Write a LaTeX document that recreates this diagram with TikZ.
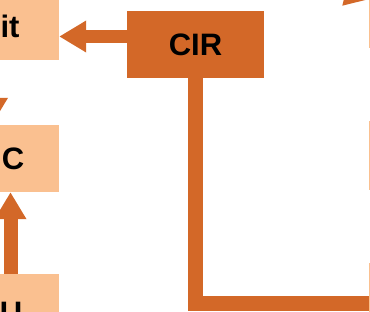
\documentclass[tikz,border=0pt]{standalone}
\usepackage{fontspec}
\setmainfont{Liberation Sans}
\usetikzlibrary{arrows.meta,positioning}
\definecolor{cLight}{RGB}{250,192,144}
\definecolor{cDark}{RGB}{211,104,40}

\begin{document}
\begin{tikzpicture}[x=1pt, y=-1pt, font=\fontsize{31}{36}\selectfont\bfseries,
  lightbox/.style={fill=cLight, inner sep=0pt},
  darkbox/.style={fill=cDark, inner sep=0pt},
  fat/.style={draw=cDark, line width=#1, -{Triangle[width=30pt, length=27pt]}},
  pipe/.style={draw=cDark, line width=15pt}]
\useasboundingbox (0,0) rectangle (370,312);
% boxes on the left, cut by the page
\node[lightbox, minimum width=98pt, minimum height=68pt] (unit) at (10,26) {it};
\node[lightbox, minimum width=92pt, minimum height=67pt] (cbox) at (13,158.5) {C};
\node[lightbox, minimum width=96pt, minimum height=78pt] (ubox) at (11,313) {U};
\node[darkbox, minimum width=137pt, minimum height=67pt] (cir) at (195.5,44.5) {CIR};
% boxes just past the right edge
\node[lightbox, minimum width=60pt, minimum height=68pt, anchor=north west] (rtop) at (369,-20) {};
\node[lightbox, minimum width=60pt, minimum height=69pt, anchor=north west] (rmid) at (369,121) {};
\node[lightbox, minimum width=60pt, minimum height=70pt, anchor=north west] (rbot) at (369,263) {};
% columns and rows of the connectors
\coordinate (leftcol) at (-8,0);
\coordinate (upcol) at (10.5,0);
\coordinate (midrow) at (0,36.5);
\coordinate (botrow) at (0,303.5);
\coordinate (fromTR) at (392,-44);
\coordinate (tipTR) at (342,6);
\draw[fat=14pt] (unit.south -| leftcol) -- (cbox.north -| leftcol);
\draw[fat=14pt] (ubox.north -| upcol) -- (cbox.south -| upcol);
\draw[fat=13pt] (cir.west |- midrow) -- (unit.east |- midrow);
\draw[fat=13pt] (fromTR) -- (tipTR);
\draw[pipe] (cir.south) |- (rbot.west |- botrow);
\end{tikzpicture}
\end{document}
